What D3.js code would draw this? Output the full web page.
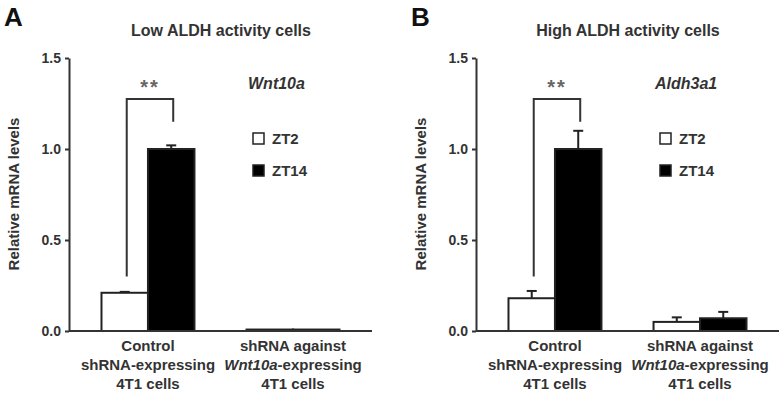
<!DOCTYPE html>
<html>
<head>
<meta charset="utf-8">
<script src="https://cdn.jsdelivr.net/npm/d3@7"></script>
<style>
  body { margin: 0; background: #fff; }
  svg text { font-family: Arial, "Liberation Sans", sans-serif; font-weight: bold; fill: #333; }
</style>
</head>
<body>
<svg id="chart" width="779" height="415"></svg>
<script>
// data
var categories = ["control", "knockdown"];
var series = ["ZT2", "ZT14"];
var yTicks = [0, 0.5, 1.0, 1.5];

var lowZT2 = [0.21, 0.008], lowZT2Err = [0.005, 0];
var lowZT14 = [1.0, 0.008], lowZT14Err = [0.02, 0];
var highZT2 = [0.18, 0.05], highZT2Err = [0.04, 0.025];
var highZT14 = [1.0, 0.07], highZT14Err = [0.10, 0.035];

var svg = d3.select("#chart");

var margin = { left: 69, top: 58, bottom: 331 },
  width = 303;

function drawPanel(offset, letter, title, gene, zt2, zt2Err, zt14, zt14Err) {
  var g = svg.append("g").attr("transform", "translate(" + offset + ",0)");

  var x0 = d3.scaleBand().domain(categories)
    .range([margin.left, margin.left + width])
    .paddingInner(0.359).paddingOuter(0.224);
  var x1 = d3.scaleBand().domain(series).range([0, x0.bandwidth()]);
  var y = d3.scaleLinear().domain([0, 1.5]).range([margin.bottom, margin.top]);

  var rows = [];
  categories.forEach(function (c, i) {
    rows.push({ cat: c, s: "ZT2", v: zt2[i], e: zt2Err[i] });
    rows.push({ cat: c, s: "ZT14", v: zt14[i], e: zt14Err[i] });
  });

  // error bars (upper only)
  rows.forEach(function (d) {
    if (!d.e) return;
    var cx = x0(d.cat) + x1(d.s) + x1.bandwidth() / 2;
    g.append("line").attr("x1", cx).attr("x2", cx)
      .attr("y1", y(d.v)).attr("y2", y(d.v + d.e))
      .attr("stroke", "#222").attr("stroke-width", 2);
    g.append("line").attr("x1", cx - 5).attr("x2", cx + 5)
      .attr("y1", y(d.v + d.e)).attr("y2", y(d.v + d.e))
      .attr("stroke", "#222").attr("stroke-width", 2);
  });

  g.selectAll("rect.bar").data(rows).enter().append("rect")
    .attr("class", "bar")
    .attr("x", function (d) { return x0(d.cat) + x1(d.s); })
    .attr("y", function (d) { return y(d.v); })
    .attr("width", x1.bandwidth())
    .attr("height", function (d) { return y(0) - y(d.v); })
    .attr("fill", function (d) { return d.s == "ZT2" ? "#fff" : "#000"; })
    .attr("stroke", "#222").attr("stroke-width", 2);

  // axes
  var ya = g.append("g").attr("transform", "translate(" + margin.left + ",0)")
    .call(d3.axisLeft(y).tickValues(yTicks).tickFormat(d3.format(".1f")).tickSize(4).tickSizeOuter(0));
  ya.select(".domain").attr("stroke", "#333").attr("stroke-width", 2);
  ya.selectAll(".tick line").attr("stroke", "#333").attr("stroke-width", 2);
  ya.selectAll(".tick text").attr("font-size", 14).attr("x", -8).attr("fill", "#333");

  g.append("line").attr("x1", margin.left).attr("x2", margin.left + width)
    .attr("y1", y(0)).attr("y2", y(0)).attr("stroke", "#333").attr("stroke-width", 2);

  // significance bracket
  var bx1 = x0(categories[0]) + x1("ZT2") + x1.bandwidth() / 2 + 2,
    bx2 = x0(categories[0]) + x1("ZT14") + x1.bandwidth() / 2 + 2;
  g.append("path")
    .attr("d", "M" + bx1 + "," + y(0.30) + "V" + y(1.275) + "H" + bx2 + "V" + y(1.15))
    .attr("fill", "none").attr("stroke", "#333").attr("stroke-width", 2);
  g.append("text").attr("x", (bx1 + bx2) / 2).attr("y", 94)
    .attr("text-anchor", "middle").attr("font-size", 20)
    .style("letter-spacing", "2px").style("fill", "#666").text("**");

  // labels
  g.append("text").attr("x", 4).attr("y", 26).attr("font-size", 26).style("fill", "#111").text(letter);
  g.append("text").attr("x", 221).attr("y", 36).attr("text-anchor", "middle")
    .attr("font-size", 16).text(title);
  g.append("text").attr("x", 248).attr("y", 89).attr("font-size", 16)
    .style("font-style", "italic").text(gene);
  g.append("text").attr("transform", "translate(19,194) rotate(-90)")
    .attr("text-anchor", "middle").attr("font-size", 15).text("Relative mRNA levels");

  // legend
  series.forEach(function (s, i) {
    var ly = 133 + i * 32;
    g.append("rect").attr("x", 253).attr("y", ly).attr("width", 11).attr("height", 11)
      .attr("fill", s == "ZT2" ? "#fff" : "#000").attr("stroke", "#222").attr("stroke-width", 1.5);
    g.append("text").attr("x", 272).attr("y", ly + 11).attr("font-size", 15).text(s);
  });

  // category labels
  var c1 = x0(categories[0]) + x0.bandwidth() / 2,
    c2 = x0(categories[1]) + x0.bandwidth() / 2;
  var t1 = g.append("text").attr("text-anchor", "middle").attr("font-size", 15);
  t1.append("tspan").attr("x", c1).attr("y", 351).text("Control");
  t1.append("tspan").attr("x", c1).attr("y", 370).text("shRNA-expressing");
  t1.append("tspan").attr("x", c1).attr("y", 389).text("4T1 cells");
  var t2 = g.append("text").attr("text-anchor", "middle").attr("font-size", 15);
  t2.append("tspan").attr("x", c2).attr("y", 351).text("shRNA against");
  var l2 = t2.append("tspan").attr("x", c2).attr("y", 370);
  l2.append("tspan").style("font-style", "italic").text("Wnt10a");
  l2.append("tspan").text("-expressing");
  t2.append("tspan").attr("x", c2).attr("y", 389).text("4T1 cells");
}

drawPanel(0, "A", "Low ALDH activity cells", "Wnt10a", lowZT2, lowZT2Err, lowZT14, lowZT14Err);
drawPanel(407, "B", "High ALDH activity cells", "Aldh3a1", highZT2, highZT2Err, highZT14, highZT14Err);
</script>
</body>
</html>
